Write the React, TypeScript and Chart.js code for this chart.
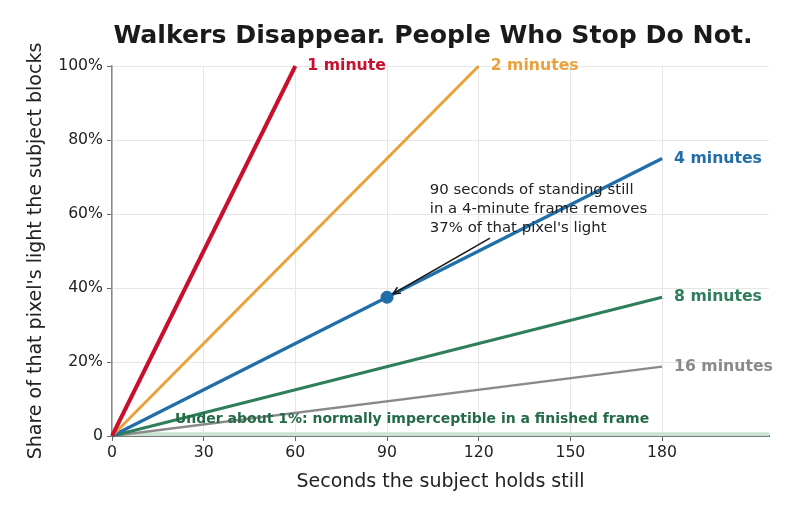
import { useEffect, useRef } from 'react';
import { Chart, registerables } from 'chart.js';

Chart.register(...registerables);

const FONT = "'DejaVu Sans', 'Liberation Sans', sans-serif";

// ---- data ----
const seriesLabels = ['1 minute', '2 minutes', '4 minutes', '8 minutes', '16 minutes'];
const startSeconds = [0, 0, 0, 0, 0];
const startShare = [0, 0, 0, 0, 0];
const endSeconds = [60, 120, 180, 180, 180];
const endShare = [100, 100, 75, 37.5, 18.75];

const highlightSeconds = [90];
const highlightShare = [37.5];

const xTicks = [0, 30, 60, 90, 120, 150, 180];
const yTicks = [0, 20, 40, 60, 80, 100];
const xMax = 215;
const noticeThreshold = 1;

const chartTitle = 'Walkers Disappear. People Who Stop Do Not.';
const xTitle = 'Seconds the subject holds still';
const yTitle = "Share of that pixel's light the subject blocks";
const annotationLines = [
  '90 seconds of standing still',
  'in a 4-minute frame removes',
  "37% of that pixel's light",
];
const annotationAt = { x: 104, y: 66.5 };
const arrowFrom = { x: 123.7, y: 53.5 };
const thresholdText = 'Under about 1%: normally imperceptible in a finished frame';
const thresholdTextAt = { x: 98.2, y: 4.6 };

// ---- styles ----
const seriesStyle = {
  colors: ['#c8102e', '#e9a23b', '#1f6ea8', '#2e7d5b', '#8a8a8a'],
  widths: [4, 3, 3.2, 3, 2.5],
};

export default function App() {
  const ref = useRef<HTMLCanvasElement>(null);

  useEffect(() => {
    document.body.style.margin = '0';
    const canvas = ref.current!;

    const lineDatasets = seriesLabels.map((label, i) => ({
      type: 'line' as const,
      label,
      data: [
        { x: startSeconds[i], y: startShare[i] },
        { x: endSeconds[i], y: endShare[i] },
      ],
      borderColor: seriesStyle.colors[i],
      backgroundColor: seriesStyle.colors[i],
      borderWidth: seriesStyle.widths[i],
      pointRadius: 0,
      borderCapStyle: 'butt' as const,
      clip: false as any,
    }));

    const pointDataset = {
      type: 'line' as const,
      label: 'highlight',
      data: highlightSeconds.map((x, i) => ({ x, y: highlightShare[i] })),
      showLine: false,
      pointRadius: 6.5,
      pointBackgroundColor: seriesStyle.colors[2],
      pointBorderColor: seriesStyle.colors[2],
      pointBorderWidth: 0,
      clip: false as any,
    };

    const overlay = {
      id: 'overlay',
      beforeDatasetsDraw(chart: any) {
        const { ctx, chartArea, scales } = chart;
        const y0 = scales.y.getPixelForValue(0);
        const y1 = scales.y.getPixelForValue(noticeThreshold);
        ctx.save();
        ctx.fillStyle = '#c8e3ce';
        ctx.fillRect(chartArea.left, y1, chartArea.right - chartArea.left, y0 - y1);
        ctx.restore();
      },
      afterDatasetsDraw(chart: any) {
        const { ctx, scales } = chart;
        const xs = scales.x;
        const ys = scales.y;
        ctx.save();

        // threshold label
        ctx.font = `bold 14px ${FONT}`;
        ctx.fillStyle = '#236b46';
        ctx.textAlign = 'center';
        ctx.textBaseline = 'middle';
        ctx.fillText(thresholdText, xs.getPixelForValue(thresholdTextAt.x), ys.getPixelForValue(thresholdTextAt.y));

        // series end labels
        ctx.font = `bold 15.7px ${FONT}`;
        ctx.textAlign = 'left';
        seriesLabels.forEach((label, i) => {
          ctx.fillStyle = seriesStyle.colors[i];
          ctx.fillText(label, xs.getPixelForValue(endSeconds[i]) + 12, ys.getPixelForValue(endShare[i]));
        });

        // annotation text
        ctx.font = `14.9px ${FONT}`;
        ctx.fillStyle = '#222222';
        const ax = xs.getPixelForValue(annotationAt.x);
        const ay = ys.getPixelForValue(annotationAt.y);
        annotationLines.forEach((t, i) => ctx.fillText(t, ax, ay + i * 19));

        // arrow
        const px = xs.getPixelForValue(highlightSeconds[0]);
        const py = ys.getPixelForValue(highlightShare[0]);
        const sx = xs.getPixelForValue(arrowFrom.x);
        const sy = ys.getPixelForValue(arrowFrom.y);
        const dx = sx - px;
        const dy = sy - py;
        const len = Math.hypot(dx, dy);
        const ux = dx / len;
        const uy = dy / len;
        const tx = px + ux * 7;
        const ty = py + uy * 7;
        ctx.strokeStyle = '#1a1a1a';
        ctx.lineWidth = 1.5;
        ctx.beginPath();
        ctx.moveTo(sx, sy);
        ctx.lineTo(tx, ty);
        ctx.stroke();
        const hl = 7;
        const hw = 3.5;
        const bx = tx + ux * hl;
        const by = ty + uy * hl;
        ctx.beginPath();
        ctx.moveTo(bx - uy * hw, by + ux * hw);
        ctx.lineTo(tx, ty);
        ctx.lineTo(bx + uy * hw, by - ux * hw);
        ctx.stroke();

        ctx.restore();
      },
      afterDraw(chart: any) {
        const { ctx } = chart;
        ctx.save();
        ctx.font = `bold 25.2px ${FONT}`;
        ctx.fillStyle = '#1a1a1a';
        ctx.textAlign = 'center';
        ctx.textBaseline = 'middle';
        ctx.fillText(chartTitle, 433, 36);
        ctx.restore();
      },
    };

    const chart = new Chart(canvas, {
      type: 'line',
      data: { datasets: [...lineDatasets, pointDataset] as any },
      options: {
        responsive: false,
        animation: false,
        devicePixelRatio: 1,
        layout: { padding: { left: 0, right: 31, top: 66, bottom: 0 } },
        plugins: {
          legend: { display: false },
          tooltip: { enabled: false },
          title: { display: false },
        },
        scales: {
          x: {
            type: 'linear',
            min: 0,
            max: xMax,
            afterFit(s: any) {
              s.height = 82;
            },
            afterBuildTicks(s: any) {
              s.ticks = xTicks.map((v) => ({ value: v }));
            },
            grid: { color: '#e6e6e6', lineWidth: 1, tickLength: 5, tickColor: '#666666', drawTicks: true },
            border: { color: '#7a7a7a', width: 2 },
            ticks: {
              font: { family: FONT, size: 15.7 },
              color: '#222222',
              padding: 3,
              maxRotation: 0,
              autoSkip: false,
            },
            title: {
              display: true,
              text: xTitle,
              font: { family: FONT, size: 19 },
              color: '#222222',
              padding: { top: 0, bottom: 25 },
            },
          },
          y: {
            type: 'linear',
            min: 0,
            max: 100,
            afterFit(s: any) {
              s.width = 112;
            },
            afterBuildTicks(s: any) {
              s.ticks = yTicks.map((v) => ({ value: v }));
            },
            grid: { color: '#e6e6e6', lineWidth: 1, tickLength: 5, tickColor: '#666666', drawTicks: true },
            border: { color: '#8a8a8a', width: 1.5 },
            ticks: {
              font: { family: FONT, size: 15.7 },
              color: '#222222',
              padding: 4,
              autoSkip: false,
              callback: (v: any) => (v === 0 ? '0' : `${v}%`),
            },
            title: {
              display: true,
              text: yTitle,
              font: { family: FONT, size: 19 },
              color: '#222222',
              padding: { top: 25, bottom: 0 },
            },
          },
        },
      },
      plugins: [overlay],
    });

    return () => chart.destroy();
  }, []);

  return (
    <div style={{ width: 800, height: 518 }}>
      <canvas ref={ref} width={800} height={518} style={{ display: 'block' }} />
    </div>
  );
}
